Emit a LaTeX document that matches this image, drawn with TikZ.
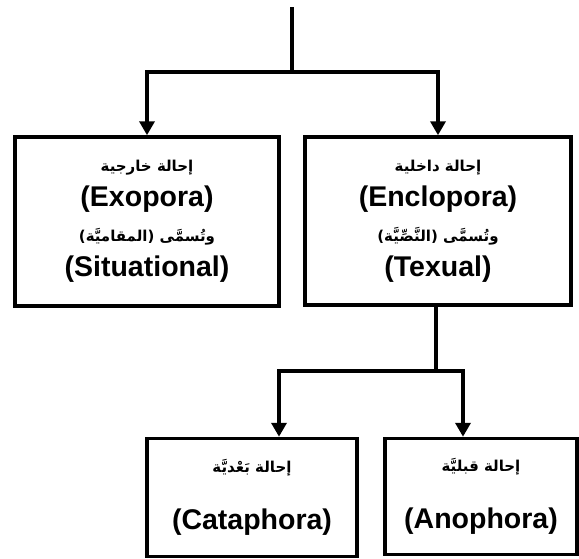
\documentclass[tikz,border=0pt]{standalone}
\usepackage{fontspec}
\setmainfont{Liberation Sans}
\newfontfamily\arabicfont[Script=Arabic]{DejaVu Sans}
\TeXXeTstate=1
\usetikzlibrary{arrows.meta}
\newcommand\arsize{\arabicfont\bfseries\fontsize{15}{15}\selectfont}
\begin{document}
\begin{tikzpicture}[x=1pt,y=-1pt,
  box/.style={draw, line width=3.5pt, align=center, inner sep=0pt},
  conn/.style={line width=3.5pt, line join=miter},
  arr/.style={conn, -{Triangle[width=15pt,length=14pt]}},
  lat/.style={font=\fontsize{28.5}{35}\selectfont\bfseries},
  latwide/.style={font=\fontsize{28.5}{57}\selectfont\bfseries}]
\useasboundingbox (0,0) rectangle (579,558);
% boxes
\node[box, lat, minimum width=264, minimum height=169] (exo) at (147,221.5) {%
  {\arsize\beginR إحالة خارجية\endR}\\
  (Exopora)\\
  {\arsize )\beginR المقاميَّة\endR( \beginR وتُسمَّى\endR}\\
  (Situational)};
\node[box, lat, minimum width=266, minimum height=168] (endo) at (438,221) {%
  {\arsize\beginR إحالة داخلية\endR}\\
  (Enclopora)\\
  {\arsize )\beginR النَّصِّيَّة\endR( \beginR وتُسمَّى\endR}\\
  (Texual)};
\node[box, latwide, minimum width=210, minimum height=118] (cata) at (252,497.5) {%
  {\arsize\beginR إحالة بَعْديَّة\endR}\\
  (Cataphora)};
\node[box, latwide, minimum width=192, minimum height=116] (ana) at (481,496.5) {%
  {\arsize\beginR إحالة قبليَّة\endR}\\
  (Anophora)};
% connectors
\coordinate (top) at (292,7);
\coordinate (j1) at (292,72);
\draw[conn] (top) -- (j1);
\draw[arr] (j1) -| (exo.north);
\draw[arr] (j1) -| (endo.north);
\coordinate (j2) at (436,371);
\draw[conn] (endo.south -| j2) -- (j2);
\draw[arr] (j2) -| (cata.north -| 279,0);
\draw[arr] (j2) -| (ana.north -| 463,0);
\end{tikzpicture}
\end{document}
